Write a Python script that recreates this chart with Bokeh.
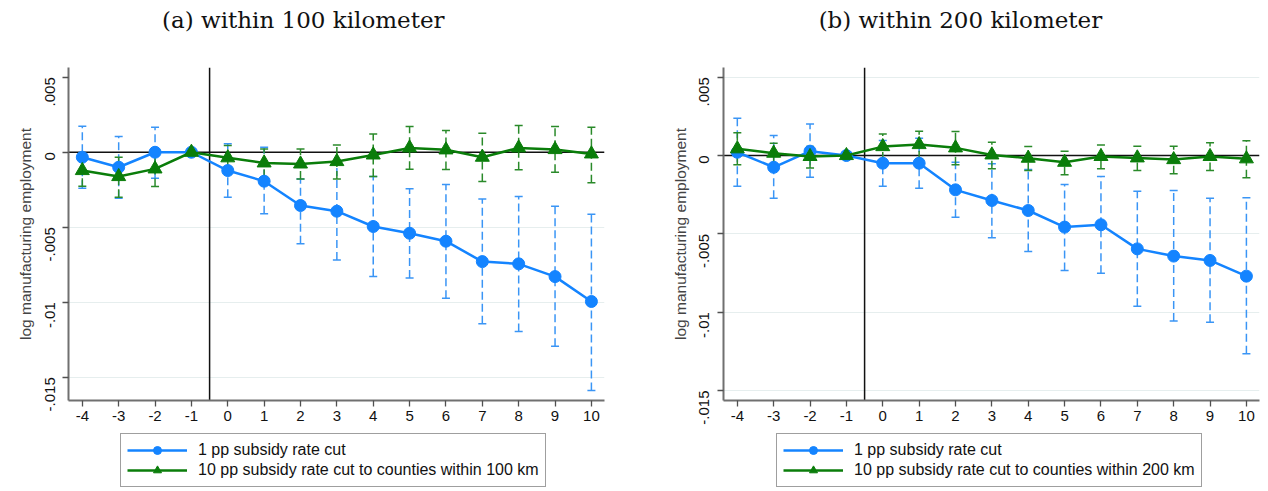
from bokeh.plotting import figure
from bokeh.models import (Range1d, Whisker, TeeHead, Span, ColumnDataSource, Legend,
                          LegendItem, FixedTicker, Label)
from bokeh.layouts import row, column
from bokeh.embed import file_html
from bokeh.resources import INLINE
import math

periods = [-4, -3, -2, -1, 0, 1, 2, 3, 4, 5, 6, 7, 8, 9, 10]

blue100 = [-0.00033, -0.0010, 0.0, 0.0, -0.00122, -0.00193, -0.00355, -0.00393, -0.00495,
           -0.0054, -0.00593, -0.00729, -0.00744, -0.00829, -0.00995]
blue100_lo = [-0.0024, -0.00307, -0.00173, None, -0.003, -0.0041, -0.0061, -0.00718, -0.00829,
              -0.00838, -0.00973, -0.01144, -0.01195, -0.01293, -0.01589]
blue100_hi = [0.00173, 0.00105, 0.00167, None, 0.00056, 0.00033, -0.00178, -0.00078, -0.00162,
              -0.00244, -0.00215, -0.00311, -0.00295, -0.0036, -0.00413]
green100 = [-0.00122, -0.00162, -0.00111, 0.0, -0.00037, -0.00071, -0.00078, -0.00062, -0.00018,
            0.00029, 0.00016, -0.00033, 0.00029, 0.00018, -0.00011]
green100_lo = [-0.00227, -0.003, -0.00229, None, -0.00115, -0.00167, -0.00178, -0.00178, -0.00162,
               -0.00113, -0.00115, -0.00195, -0.00117, -0.00133, -0.00204]
green100_hi = [-0.00018, -0.00033, -0.0002, None, 0.00045, 0.00022, 0.00022, 0.00049, 0.00122,
               0.00171, 0.00145, 0.00127, 0.00178, 0.00171, 0.00167]

blue200 = [0.00021, -0.00075, 0.00028, 0.0, -0.00049, -0.00049, -0.00219, -0.00287, -0.00351,
           -0.00457, -0.00442, -0.00596, -0.00642, -0.0067, -0.0077]
blue200_lo = [-0.00196, -0.00272, -0.00138, None, -0.00196, -0.00209, -0.00394, -0.00525, -0.00613,
              -0.00734, -0.00751, -0.00962, -0.01057, -0.01064, -0.01266]
blue200_hi = [0.00238, 0.00128, 0.00202, None, 0.00096, 0.0011, -0.00043, -0.00053, -0.00089,
              -0.00185, -0.00134, -0.00228, -0.00223, -0.00272, -0.0027]
green200 = [0.00043, 0.00015, -0.00006, 0.0, 0.00057, 0.0007, 0.00049, 0.00004, -0.00017,
            -0.00043, -0.00006, -0.00015, -0.00026, -0.00006, -0.00021]
green200_lo = [-0.00059, -0.00059, -0.00079, None, -0.00028, -0.00021, -0.00059, -0.00085, -0.00096,
               -0.00123, -0.00085, -0.00096, -0.00117, -0.00096, -0.00142]
green200_hi = [0.00145, 0.00079, 0.00057, None, 0.00138, 0.00155, 0.00153, 0.00085, 0.00057,
               0.00028, 0.00068, 0.00059, 0.00059, 0.00081, 0.00094]

y_ticks = [0.005, 0.0, -0.005, -0.01, -0.015]
y_tick_labels = [".005", "0", "-.005", "-.01", "-.015"]
grid_ticks_a = [0.0, -0.005, -0.01, -0.015]
grid_ticks_b = [0.005, 0.0, -0.005, -0.01, -0.015]
x_tick_labels = [str(v) for v in periods]
titles = ["(a) within 100 kilometer", "(b) within 200 kilometer"]
series_labels = ["1 pp subsidy rate cut",
                 "10 pp subsidy rate cut to counties within 100 km",
                 "10 pp subsidy rate cut to counties within 200 km"]
y_label = "log manufacturing employment"

BLUE = "#1484ff"
BLUE_CI = "#3a95f5"
GREEN = "#0a7d0a"
GREEN_CI = "#2a8a2a"
SANS = "Liberation Sans"
FIG_W = 634


def whisker(p, lo, hi, color):
    xs = [x for x, l in zip(periods, lo) if l is not None]
    los = [l for l in lo if l is not None]
    his = [h for h in hi if h is not None]
    src = ColumnDataSource(dict(x=xs, lo=los, hi=his))
    w = Whisker(source=src, base="x", lower="lo", upper="hi", dimension="height",
                line_color=color, line_width=1.5, line_dash="8 4", level="underlay",
                upper_head=TeeHead(size=8, line_color=color, line_width=1.5),
                lower_head=TeeHead(size=8, line_color=color, line_width=1.5))
    p.add_layout(w)


def title_fig(text, cx):
    tf = figure(width=FIG_W, height=50, output_backend="svg", toolbar_location=None,
                x_axis_type=None, y_axis_type=None, min_border=0,
                x_range=Range1d(0, 1), y_range=Range1d(0, 1))
    tf.outline_line_color = None
    tf.grid.visible = False
    tf.add_layout(Label(x=cx, y=0.62, text=text, text_font="DejaVu Serif",
                        text_font_size="23px", text_color="#111111",
                        text_align="center", text_baseline="middle"))
    return tf


def panel(blue, blo, bhi, green, glo, ghi, yr, bl, br, gticks):
    p = figure(width=FIG_W, height=380, output_backend="svg", toolbar_location=None,
               x_range=Range1d(-4.38, 10.36), y_range=Range1d(*yr),
               min_border_left=bl, min_border_right=br, min_border_top=17,
               min_border_bottom=30)
    p.outline_line_color = None
    p.xgrid.visible = False
    p.ygrid.grid_line_color = "#e6eeee"
    p.ygrid.grid_line_width = 1.2
    p.ygrid.ticker = FixedTicker(ticks=gticks)

    p.xaxis.ticker = FixedTicker(ticks=periods)
    p.xaxis.major_label_overrides = {t: l for t, l in zip(periods, x_tick_labels)}
    p.yaxis.ticker = FixedTicker(ticks=y_ticks)
    p.yaxis.major_label_overrides = {t: l for t, l in zip(y_ticks, y_tick_labels)}
    p.yaxis.major_label_orientation = math.pi / 2
    p.yaxis.axis_label = y_label
    p.yaxis.axis_label_text_font = SANS
    p.yaxis.axis_label_text_font_size = "15.5px"
    p.yaxis.axis_label_text_font_style = "normal"
    p.yaxis.axis_label_standoff = 3
    for ax in (p.xaxis, p.yaxis):
        ax.axis_line_color = "#707070"
        ax.axis_line_width = 2
        ax.major_tick_line_color = "#505050"
        ax.major_tick_line_width = 1.3
        ax.major_tick_out = 6
        ax.major_tick_in = 0
        ax.minor_tick_line_color = None
        ax.major_label_text_font = SANS
        ax.major_label_text_font_size = "15px"
        ax.major_label_text_color = "#111111"
    p.xaxis.major_label_standoff = 4
    p.yaxis.major_label_standoff = 13

    p.add_layout(Span(location=0, dimension="width", line_color="#111111",
                      line_width=1.5, level="underlay"))
    p.add_layout(Span(location=-0.5, dimension="height", line_color="#111111",
                      line_width=1.5, level="underlay"))

    whisker(p, blo, bhi, BLUE_CI)
    whisker(p, glo, ghi, GREEN_CI)

    p.line(periods, blue, line_color=BLUE, line_width=2.5)
    p.scatter(periods, blue, marker="circle", size=12, fill_color=BLUE, line_color=BLUE)
    p.line(periods, green, line_color=GREEN, line_width=2.5)
    p.scatter(periods, green, marker="triangle", size=14, fill_color=GREEN, line_color=GREEN)
    return p


def legend_fig(glabel, box_x):
    # legend-only strip; its swatch renderers sit outside the visible range
    lf = figure(width=FIG_W, height=61, output_backend="svg", toolbar_location=None,
                x_axis_type=None, y_axis_type=None, min_border=0,
                x_range=Range1d(0, 1), y_range=Range1d(0, 1))
    lf.outline_line_color = None
    lf.grid.visible = False
    off = [-5.0, -6.0]
    bl_r = lf.line(off, off, line_color=BLUE, line_width=2.5)
    bc_r = lf.scatter(off, off, marker="circle", size=12, fill_color=BLUE, line_color=BLUE)
    gl_r = lf.line(off, off, line_color=GREEN, line_width=2.5)
    gt_r = lf.scatter(off, off, marker="triangle", size=14, fill_color=GREEN, line_color=GREEN)
    legend = Legend(items=[LegendItem(label=series_labels[0], renderers=[bl_r, bc_r]),
                           LegendItem(label=glabel, renderers=[gl_r, gt_r])],
                    location=(box_x, 4), orientation="vertical",
                    label_text_font=SANS, label_text_font_size="16px",
                    label_text_color="#111111",
                    glyph_width=60, glyph_height=20, label_height=20,
                    label_standoff=11, spacing=0, padding=6, margin=0,
                    border_line_color="#404040", border_line_width=1.2,
                    background_fill_alpha=1.0)
    lf.add_layout(legend, "center")
    return lf


t1 = title_fig(titles[0], 0.438)
t2 = title_fig(titles[1], 0.442)
p1 = panel(blue100, blue100_lo, blue100_hi, green100, green100_lo, green100_hi,
           (-0.01655, 0.00565), 68, 30, grid_ticks_a)
p2 = panel(blue200, blue200_lo, blue200_hi, green200, green200_lo, green200_hi,
           (-0.01564, 0.00562), 89, 9, grid_ticks_b)
l1 = legend_fig(series_labels[1], 52)
l2 = legend_fig(series_labels[2], 53)

p = row(column(t1, p1, l1), column(t2, p2, l2))
open("out.html", "w").write(file_html(p, INLINE))
